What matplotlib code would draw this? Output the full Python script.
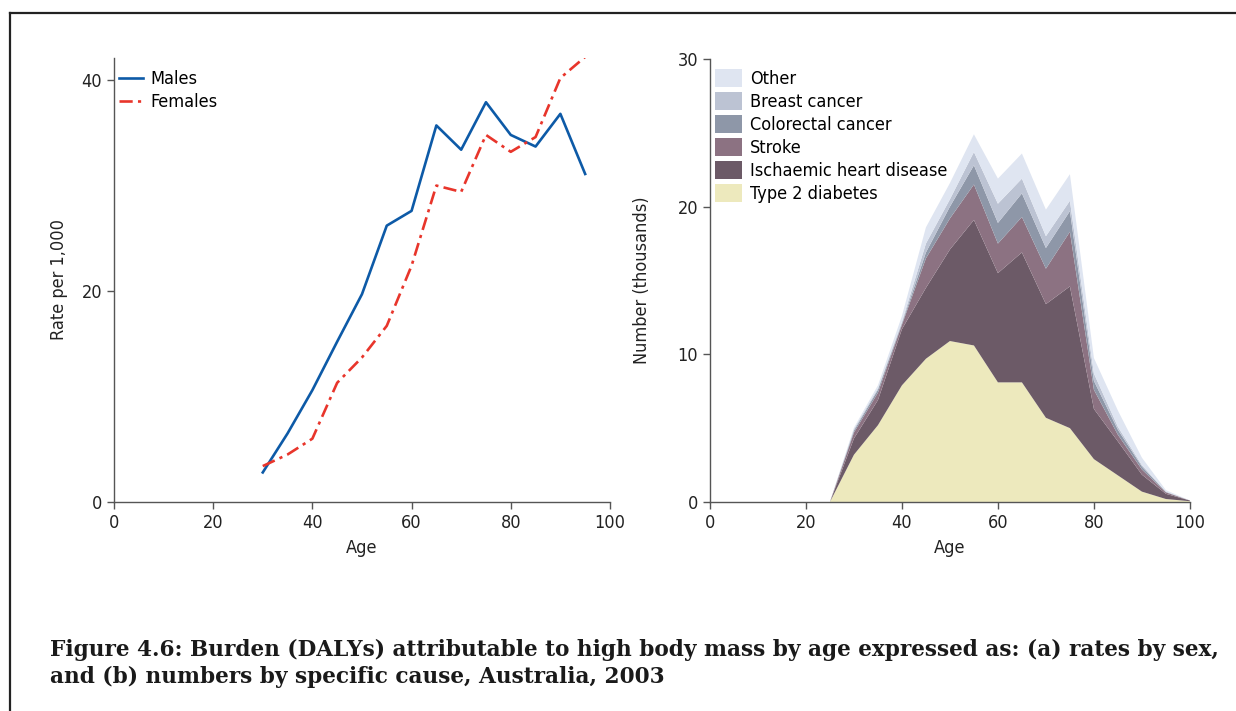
import numpy as np
import matplotlib.pyplot as plt
from matplotlib.lines import Line2D

plt.rcParams['font.family'] = ['DejaVu Sans']
plt.rcParams['font.stretch'] = 'condensed'

# (a) rates by sex
ages_a = [30, 35, 40, 45, 50, 55, 60, 65, 70, 75, 80, 85, 90, 95]
males = [2.8, 6.5, 10.6, 15.2, 19.7, 26.2, 27.6, 35.7, 33.4, 37.9, 34.8, 33.7, 36.8, 31.1]
females = [3.4, 4.5, 6.0, 11.3, 13.7, 16.7, 22.4, 30.0, 29.4, 34.8, 33.2, 34.6, 40.2, 42.2]

# (b) numbers by cause (thousands)
ages_b = [0, 5, 10, 15, 20, 25, 30, 35, 40, 45, 50, 55, 60, 65, 70, 75, 80, 85, 90, 95, 100]
diabetes = [0, 0, 0, 0, 0, 0, 3.2, 5.2, 7.9, 9.7, 10.9, 10.6, 8.1, 8.1, 5.7, 5.0, 2.9, 1.8, 0.7, 0.2, 0.05]
ihd = [0, 0, 0, 0, 0, 0, 1.1, 1.7, 3.8, 4.8, 6.2, 8.5, 7.4, 8.8, 7.7, 9.6, 3.4, 2.3, 1.15, 0.35, 0.05]
stroke = [0, 0, 0, 0, 0, 0, 0.4, 0.5, 0.3, 2.0, 2.1, 2.4, 2.0, 2.4, 2.4, 3.7, 1.3, 0.45, 0.35, 0.1, 0]
colorectal = [0, 0, 0, 0, 0, 0, 0.13, 0.2, 0.1, 0.4, 0.8, 1.3, 1.4, 1.6, 1.4, 1.4, 0.6, 0.34, 0.2, 0.03, 0]
breast = [0, 0, 0, 0, 0, 0, 0.1, 0.1, 0.1, 0.6, 0.5, 0.9, 1.3, 1.0, 0.8, 0.7, 0.5, 0.2, 0.1, 0.02, 0]
other = [0, 0, 0, 0, 0, 0, 0.1, 0.2, 0.4, 1.1, 1.1, 1.2, 1.7, 1.7, 1.8, 1.8, 1.05, 1.1, 0.5, 0.1, 0]
causes = ['Type 2 diabetes', 'Ischaemic heart disease', 'Stroke',
          'Colorectal cancer', 'Breast cancer', 'Other']
colors = ['#ede9bd', '#6c5a67', '#8c7282', '#8e97a8', '#bcc3d3', '#dfe5f1']

caption = ('Figure 4.6: Burden (DALYs) attributable to high body mass by age expressed as: (a) rates by sex,\n'
           'and (b) numbers by specific cause, Australia, 2003')

fig = plt.figure(figsize=(12.36, 7.11), dpi=100)

spine_col = '#555555'
txt_col = '#222222'


def style(ax):
    for s in ['top', 'right']:
        ax.spines[s].set_visible(False)
    for s in ['left', 'bottom']:
        ax.spines[s].set_color(spine_col)
        ax.spines[s].set_linewidth(1.0)
    ax.tick_params(direction='out', length=5, width=1, colors=spine_col,
                   labelcolor=txt_col, labelsize=13)
    ax.set_xlim(0, 100)
    ax.set_xticks([0, 20, 40, 60, 80, 100])


ax1 = fig.add_axes([0.0922, 0.294, 0.4013, 0.6245])
style(ax1)
ax1.plot(ages_a, males, color='#0d5aa7', lw=1.9, label='Males')
ax1.plot(ages_a, females, color='#e8352b', lw=1.9, ls=(0, (5, 2, 1.2, 2)), label='Females')
ax1.set_ylim(0, 42.1)
ax1.set_yticks([0, 20, 40])
ax1.spines['bottom'].set_bounds(0, 100)
ax1.set_xlabel('Age', fontsize=13, color=txt_col, labelpad=5)
ax1.set_ylabel('Rate per 1,000', fontsize=13, color=txt_col, labelpad=10)
ax1.legend(loc='upper left', bbox_to_anchor=(0.0, 0.985), frameon=False, fontsize=13,
           handlelength=1.3, handletextpad=0.4, labelspacing=0.3, borderaxespad=0.2,
           borderpad=0.1)

ax2 = fig.add_axes([0.5744, 0.294, 0.3883, 0.623])
style(ax2)
ax2.stackplot(ages_b, diabetes, ihd, stroke, colorectal, breast, other,
              colors=colors, labels=causes, lw=0)
ax2.set_ylim(0, 30)
ax2.set_yticks([0, 10, 20, 30])
ax2.set_xlabel('Age', fontsize=13, color=txt_col, labelpad=5)
ax2.set_ylabel('Number (thousands)', fontsize=13, color=txt_col, labelpad=19)
h, l = ax2.get_legend_handles_labels()
ax2.legend(h[::-1], l[::-1], loc='upper left', bbox_to_anchor=(0.0, 0.99), frameon=False,
           fontsize=13, handlelength=1.5, handleheight=1.2, handletextpad=0.4,
           labelspacing=0.2, borderaxespad=0.2, borderpad=0.1)

fig.text(0.0405, 0.032, caption, fontsize=15.6, fontweight='bold', family='DejaVu Serif',
         stretch='normal', color='#1a1a1a', linespacing=1.33, va='bottom', ha='left')

# frame lines
fig.add_artist(Line2D([0.008, 1.0], [0.982, 0.982], color='#222222', lw=1.6))
fig.add_artist(Line2D([0.008, 0.008], [0.0, 0.982], color='#222222', lw=1.6))

fig.savefig('out.png', dpi=100)
